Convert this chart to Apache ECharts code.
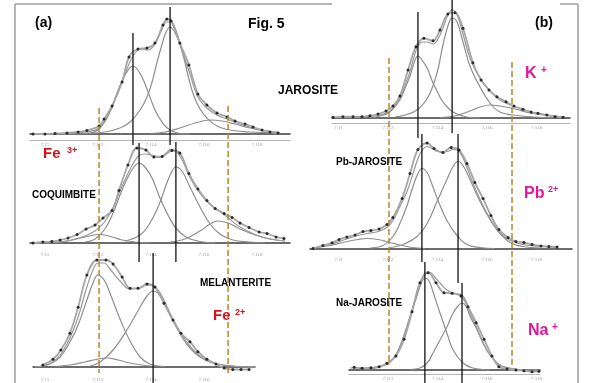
<!DOCTYPE html>
<html>
<head>
<meta charset="utf-8">
<script src="https://cdn.jsdelivr.net/npm/echarts@6/dist/echarts.min.js"></script>
<style>
  html, body { margin: 0; padding: 0; background: #fff; }
  #chart { width: 589px; height: 383px; }
</style>
</head>
<body>
<div id="chart"></div>
<script>
// Fe K pre-edge spectra (energy in eV, intensity in arbitrary units above baseline)
const tickEnergies = [7110, 7112, 7114, 7116, 7118];

// ---- (a) JAROSITE ----
const jarDots = [[7109.55,0],[7110.00,0],[7110.38,0.5],[7110.83,1],[7111.25,2],[7111.58,3.5],[7112.04,8],[7112.23,15],[7112.53,28],[7112.91,52],[7113.17,77],[7113.51,85],[7113.85,86],[7114.15,91],[7114.45,109],[7114.60,115],[7114.76,113],[7115.09,91],[7115.43,69],[7115.77,40],[7116.11,29],[7116.49,21],[7116.87,17],[7117.17,13],[7117.55,10],[7117.85,7],[7118.19,4],[7118.49,2],[7118.79,1]];
const jarFit = [[7109.55,0],[7110.57,0.5],[7111.32,1.5],[7111.70,2.5],[7112.08,7],[7112.45,22],[7112.75,42],[7113.02,60],[7113.32,78],[7113.62,85],[7113.89,84],[7114.15,90],[7114.42,105],[7114.60,112],[7114.76,112],[7114.94,104],[7115.17,84],[7115.47,60],[7115.77,37],[7116.11,26],[7116.49,19],[7116.87,15],[7117.36,10],[7117.85,6],[7118.30,3.5],[7118.87,1.5]];
const jarPeak1 = [[7110.57,0],[7111.70,1],[7112.08,6],[7112.45,22],[7112.75,43],[7113.02,59],[7113.32,68],[7113.62,59],[7113.89,42],[7114.19,22],[7114.57,7],[7114.94,1.5],[7115.47,0]];
const jarPeak2 = [[7111.51,0.5],[7112.26,2],[7112.83,6],[7113.21,12],[7113.59,24],[7113.85,37],[7114.04,52],[7114.23,72],[7114.42,90],[7114.57,102],[7114.72,107],[7114.87,103],[7115.06,92],[7115.25,75],[7115.43,55],[7115.62,38],[7115.85,25],[7116.11,16],[7116.49,8],[7116.98,4],[7117.74,2],[7118.87,1]];
const jarPeak3 = [[7113.96,0.5],[7114.53,2],[7115.09,6],[7115.66,11],[7116.23,14],[7116.68,13],[7117.17,10],[7117.74,6],[7118.30,3],[7118.87,1]];
const jarMarks = [[7113.32,101,-11],[7114.72,127,-11]];

// ---- (a) COQUIMBITE ----
const coqDots = [[7109.55,0],[7109.92,1],[7110.26,1.5],[7110.57,3],[7110.87,5],[7111.21,8.5],[7111.55,14],[7111.89,18],[7112.19,25],[7112.53,32.5],[7112.79,52.5],[7113.13,78],[7113.47,95],[7113.81,93],[7114.11,86],[7114.42,86.5],[7114.79,92.5],[7115.09,90],[7115.43,69.5],[7115.77,54],[7116.11,42.5],[7116.42,34.5],[7116.76,29.5],[7117.06,25.5],[7117.36,20],[7117.70,15.5],[7118.08,11],[7118.38,9.5],[7118.72,6],[7119.02,4.5]];
const coqFit = [[7109.55,0],[7110.38,0.5],[7110.94,2.5],[7111.51,7],[7111.89,12],[7112.08,16.5],[7112.26,21.5],[7112.57,35.5],[7112.83,52],[7113.13,69.5],[7113.36,81],[7113.55,87.5],[7113.77,89],[7114.04,88],[7114.34,86],[7114.57,90],[7114.76,94],[7114.94,92],[7115.17,83.5],[7115.47,65.5],[7115.85,49.5],[7116.23,38.5],[7116.53,33],[7116.91,25],[7117.36,16],[7117.93,8.5],[7118.49,4],[7119.06,2]];
const coqPeak1 = [[7110.38,0.5],[7110.94,2.5],[7111.51,6],[7112.08,8.5],[7112.53,6],[7112.91,3],[7113.40,1],[7113.96,0]];
const coqPeak2 = [[7111.51,1],[7111.89,4],[7112.26,14],[7112.57,30],[7112.83,48],[7113.13,66],[7113.36,76],[7113.55,80],[7113.77,76],[7114.04,65],[7114.34,45],[7114.64,28],[7114.94,15],[7115.32,6],[7115.77,2],[7116.42,0]];
const coqPeak3 = [[7113.02,2],[7113.59,8],[7113.96,20],[7114.30,38],[7114.57,58],[7114.76,70],[7114.94,76],[7115.17,72],[7115.47,56],[7115.85,36],[7116.23,19],[7116.60,9],[7117.09,3],[7117.74,1],[7118.30,0]];
const coqPeak4 = [[7114.72,1],[7115.28,4],[7115.85,12],[7116.23,19],[7116.53,22],[7116.91,20],[7117.36,14],[7117.93,8],[7118.49,4],[7119.06,2]];
const coqMarks = [[7113.55,100,-19],[7114.94,101,-19]];

// ---- (a) MELANTERITE ----
const melDots = [[7109.92,2],[7110.30,7.7],[7110.60,17],[7110.94,33.7],[7111.25,59.7],[7111.58,92],[7111.96,107],[7112.30,107],[7112.57,103],[7112.91,90],[7113.21,78.7],[7113.51,78.7],[7113.85,83],[7114.15,80],[7114.49,63.7],[7114.83,47],[7115.13,33.7],[7115.47,25.3],[7115.77,15.3],[7116.11,7.7],[7116.45,3],[7116.76,-1],[7117.09,-2.5],[7117.40,-2.5],[7117.70,-2.5]];
const melFit = [[7109.62,0],[7110.19,3.5],[7110.57,12],[7110.94,29],[7111.25,50],[7111.58,80],[7111.81,97],[7112.00,104],[7112.23,104],[7112.45,98],[7112.83,86],[7113.21,78],[7113.59,79],[7113.85,82],[7114.08,81],[7114.26,77],[7114.45,69],[7114.83,48],[7115.17,32],[7115.47,21],[7115.85,11],[7116.34,4],[7117.09,1],[7117.93,0]];
const melPeak1 = [[7109.81,0.5],[7110.19,3],[7110.57,10],[7110.94,25],[7111.25,42],[7111.58,67],[7111.81,84],[7112.00,92],[7112.23,87],[7112.45,74],[7112.83,48],[7113.21,26],[7113.59,10],[7113.96,3],[7114.53,0.5]];
const melPeak2 = [[7110.38,0.5],[7110.94,2],[7111.51,5],[7112.00,8],[7112.34,9],[7112.75,7],[7113.21,4],[7113.66,2],[7114.15,0.5]];
const melPeak3 = [[7111.70,1],[7112.08,5],[7112.57,17],[7113.09,37],[7113.59,60],[7113.85,71],[7114.08,76],[7114.26,74],[7114.45,66],[7114.83,46],[7115.17,30],[7115.47,19],[7115.85,10],[7116.34,4],[7117.09,1],[7117.93,0]];
const melMarks = [[7114.08,114,-16]];

// ---- (b) K-JAROSITE ----
const kDots = [[7109.78,0.7],[7110.18,1.3],[7110.59,1.3],[7110.95,1.3],[7111.27,2.3],[7111.60,4],[7111.92,7],[7112.20,12],[7112.48,22],[7112.81,48],[7113.13,71.3],[7113.45,79.7],[7113.82,77.3],[7114.10,88],[7114.42,104],[7114.71,105.3],[7115.03,89.7],[7115.43,55.3],[7115.76,38],[7116.08,28],[7116.40,21.3],[7116.77,16.3],[7117.09,12],[7117.45,8.7],[7117.78,6],[7118.06,4.7],[7118.42,3],[7118.75,1.3],[7119.07,0.7]];
const kFit = [[7109.86,0.5],[7110.87,1],[7111.68,3],[7112.08,7],[7112.48,20],[7112.69,33],[7112.89,46.5],[7113.05,61],[7113.21,72],[7113.37,76],[7113.58,76],[7113.82,74],[7114.02,79],[7114.22,90],[7114.42,103],[7114.59,108],[7114.79,103],[7115.03,84],[7115.31,60],[7115.72,40],[7116.12,27],[7116.52,18],[7117.05,12],[7117.74,6],[7118.34,3],[7119.15,1]];
const kPeak1 = [[7111.27,0.5],[7111.68,2],[7112.08,6],[7112.48,18],[7112.69,30],[7112.89,42],[7113.05,55],[7113.21,62],[7113.37,58],[7113.58,50],[7113.82,35],[7114.02,25],[7114.22,16],[7114.63,6],[7115.19,1],[7115.72,0]];
const kPeak2 = [[7112.28,1],[7112.69,3],[7113.17,8],[7113.62,21],[7113.98,45],[7114.22,73],[7114.42,92],[7114.59,100],[7114.79,96],[7115.03,76],[7115.31,52],[7115.72,31],[7116.12,15],[7116.52,6],[7117.05,3],[7117.86,1],[7118.75,0]];
const kPeak3 = [[7114.10,0.5],[7114.71,2],[7115.31,7],[7115.72,11],[7116.12,13],[7116.52,12],[7117.13,9],[7117.74,5],[7118.34,3],[7119.15,1]];
const kMarks = [[7113.21,106,-20],[7114.59,118,-15]];

// ---- (b) Pb-JAROSITE ----
const pbDots = [[7108.97,0],[7109.37,3],[7109.74,5.7],[7110.02,9],[7110.34,11.5],[7110.67,13.5],[7110.99,17],[7111.31,18],[7111.64,19.5],[7111.96,24],[7112.20,31],[7112.57,50],[7112.89,75],[7113.21,99],[7113.58,105.5],[7113.86,100],[7114.22,96],[7114.55,101],[7114.87,98.5],[7115.19,85],[7115.51,66],[7115.84,50],[7116.16,33],[7116.48,19],[7116.85,11],[7117.17,7],[7117.49,6],[7117.82,4],[7118.18,2.5],[7118.50,2],[7118.83,1.5]];
const pbFit = [[7108.97,0.5],[7109.66,4],[7110.26,9],[7110.79,13],[7111.15,15],[7111.60,17],[7111.96,21],[7112.20,28],[7112.48,42],[7112.77,57],[7113.01,75],[7113.21,90],[7113.37,98],[7113.58,102],[7113.78,100],[7114.02,97],[7114.38,97],[7114.63,99],[7114.83,98],[7115.03,91],[7115.31,73],[7115.72,49],[7116.12,30],[7116.52,16],[7116.93,8],[7117.45,4],[7118.14,2],[7118.83,1]];
const pbPeak1 = [[7108.97,0.5],[7109.66,3],[7110.26,6.5],[7110.79,9],[7111.15,10],[7111.60,9],[7112.08,6],[7112.48,3.5],[7112.97,1],[7113.49,0]];
const pbPeak2 = [[7111.27,0.5],[7111.80,3],[7112.20,12],[7112.48,25],[7112.77,43],[7113.01,62],[7113.21,75],[7113.37,80],[7113.58,76],[7113.78,64],[7114.02,48],[7114.38,28],[7114.79,13],[7115.19,4],[7115.72,1],[7116.32,0]];
const pbPeak3 = [[7112.08,1],[7112.61,4],[7113.17,12],[7113.58,25],[7113.98,47],[7114.38,69],[7114.63,82],[7114.83,87],[7115.03,83],[7115.31,69],[7115.72,47],[7116.12,29],[7116.52,15],[7116.93,6],[7117.45,2],[7118.14,0.5]];
const pbMarks = [[7113.37,114.5,-13.5],[7114.83,114.5,-34.5]];

// ---- (b) Na-JAROSITE ----
const naDots = [[7110.63,2.7],[7110.95,1.7],[7111.31,2.3],[7111.64,3.3],[7111.96,6.7],[7112.32,14],[7112.65,30.7],[7112.97,58.3],[7113.29,87.3],[7113.62,97.3],[7113.94,87.3],[7114.26,77.3],[7114.59,76.7],[7114.95,74],[7115.23,63.3],[7115.56,47.3],[7115.88,30.7],[7116.20,14],[7116.48,3.3],[7116.81,1],[7117.17,0],[7117.49,-0.7],[7117.82,-1.7],[7118.10,-1.3]];
const naFit = [[7110.46,2],[7111.07,2],[7111.68,3.5],[7112.08,8],[7112.36,17],[7112.61,32],[7112.89,53.5],[7113.17,77],[7113.33,88.5],[7113.49,97],[7113.66,98],[7113.82,95],[7114.10,87],[7114.38,80],[7114.63,77],[7114.83,76],[7114.99,75],[7115.15,69],[7115.31,57.5],[7115.60,41.5],[7115.84,27.5],[7116.12,15],[7116.52,5],[7116.93,1.7],[7117.53,0],[7118.14,0]];
const naPeak1 = [[7111.07,0.5],[7111.68,3],[7112.08,8],[7112.36,17],[7112.61,32],[7112.89,53],[7113.17,74],[7113.33,86],[7113.49,92],[7113.66,89],[7113.82,78],[7114.10,57],[7114.38,37],[7114.63,20],[7115.03,7],[7115.43,2],[7116.12,0]];
const naPeak2 = [[7112.89,0.5],[7113.29,2],[7113.58,7],[7113.82,17],[7114.10,30],[7114.38,43],[7114.63,57],[7114.83,64],[7114.99,67],[7115.15,64],[7115.31,54],[7115.60,40],[7115.84,27],[7116.12,15],[7116.52,5],[7116.93,1.7],[7117.53,0]];
const naMarks = [[7113.49,108,-13],[7114.99,87,-13]];

// dashed energy limits running through each column (left: panel-1 units, right: panel-4 units)
const leftLimits = [[7112.04,26,-239],[7116.91,28,-239]];
const rightLimits = [[7112.04,60,-262],[7117.01,56,-262]];

const panels = [
  { dots: jarDots, fit: jarFit, peaks: [jarPeak1, jarPeak2, jarPeak3], marks: jarMarks,
    box: { left: 30, top: 5, width: 260, height: 135 }, xr: [7109.434, 7119.246], yr: [-6, 129], frame: true },
  { dots: coqDots, fit: coqFit, peaks: [coqPeak1, coqPeak2, coqPeak3, coqPeak4], marks: coqMarks,
    box: { left: 30, top: 140, width: 260, height: 110 }, xr: [7109.434, 7119.246], yr: [-7, 103], frame: false },
  { dots: melDots, fit: melFit, peaks: [melPeak1, melPeak2, melPeak3], marks: melMarks,
    box: { left: 33, top: 250, width: 222, height: 125 }, xr: [7109.547, 7117.925], yr: [-8, 117], frame: false },
  { dots: kDots, fit: kFit, peaks: [kPeak1, kPeak2, kPeak3], marks: kMarks,
    box: { left: 332, top: 0, width: 238, height: 123 }, xr: [7109.738, 7119.353], yr: [-5, 118], frame: true },
  { dots: pbDots, fit: pbFit, peaks: [pbPeak1, pbPeak2, pbPeak3], marks: pbMarks,
    box: { left: 310, top: 130, width: 262, height: 125 }, xr: [7108.849, 7119.434], yr: [-6.5, 118.5], frame: false },
  { dots: naDots, fit: naFit, peaks: [naPeak1, naPeak2], marks: naMarks,
    box: { left: 349, top: 260, width: 191, height: 114 }, xr: [7110.424, 7118.141], yr: [-4, 110], frame: true }
];

const grid = [], xAxis = [], yAxis = [], series = [];
const frameAxes = [];

panels.forEach((p, i) => {
  grid.push(Object.assign({ containLabel: false }, p.box));
  xAxis.push({
    gridIndex: i, type: 'value', min: p.xr[0], max: p.xr[1],
    axisLine: { onZero: true, lineStyle: { color: '#3c3c3c', width: 1.5 } },
    axisTick: { show: false }, splitLine: { show: false },
    axisLabel: {
      customValues: tickEnergies.filter(v => v >= p.xr[0] && v <= p.xr[1]),
      formatter: v => String(+(v / 1000).toFixed(3)),
      fontSize: 5, color: '#9a9a9a', margin: 2, fontFamily: 'Liberation Serif'
    }
  });
  yAxis.push({ gridIndex: i, type: 'value', min: p.yr[0], max: p.yr[1], show: false });
  if (p.frame) {
    frameAxes.push({
      gridIndex: i, type: 'value', min: p.xr[0], max: p.xr[1], position: 'bottom',
      axisLine: { onZero: false, lineStyle: { color: '#b4b4b4', width: 1.2 } },
      axisTick: { show: false }, axisLabel: { show: false }, splitLine: { show: false }
    });
  }
  p.peaks.forEach(d => series.push({
    type: 'line', xAxisIndex: i, yAxisIndex: i, data: d, smooth: 0.4, symbol: 'none',
    lineStyle: { color: '#8e8e8e', width: 1.2 }, silent: true, z: 2
  }));
  series.push({
    type: 'line', xAxisIndex: i, yAxisIndex: i, data: p.fit, smooth: 0.4, symbol: 'none',
    lineStyle: { color: '#9a9a9a', width: 1.2 }, silent: true, z: 3
  });
  series.push({
    type: 'line', xAxisIndex: i, yAxisIndex: i, data: p.dots, smooth: 0.35,
    symbol: 'circle', symbolSize: 3, itemStyle: { color: '#2b2b2b' },
    lineStyle: { color: '#a6a6a6', width: 1.8 }, silent: true, z: 4
  });
  p.marks.forEach(m => series.push({
    type: 'line', xAxisIndex: i, yAxisIndex: i, data: [[m[0], m[1]], [m[0], m[2]]],
    symbol: 'none', clip: false, lineStyle: { color: '#111', width: 1.3 }, silent: true, z: 6
  }));
});

frameAxes.forEach(a => xAxis.push(a));

function limitSeries(list, idx) {
  list.forEach(m => series.push({
    type: 'line', xAxisIndex: idx, yAxisIndex: idx, data: [[m[0], m[1]], [m[0], m[2]]],
    symbol: 'none', clip: false,
    lineStyle: { color: '#b8862f', width: 1.5, type: [6, 3] }, silent: true, z: 7
  }));
}
limitSeries(leftLimits, 0);
limitSeries(rightLimits, 3);

const RED = '#d3141c', MAG = '#e0179c';
const FONT = '"Liberation Sans", Arial, sans-serif';
const labels = [
  ['(a)', 35, 23, 14, '#000'],
  ['Fig. 5', 248, 24, 14, '#000'],
  ['JAROSITE', 278, 91, 12, '#000'],
  ['Fe', 43, 154, 15, RED], ['3+', 67, 151, 9, RED],
  ['COQUIMBITE', 32, 195, 10, '#000'],
  ['MELANTERITE', 200, 283, 10, '#000'],
  ['Fe', 213, 316, 15, RED], ['2+', 235, 313, 9, RED],
  ['(b)', 535, 23, 14, '#000'],
  ['K', 525, 74, 16, MAG], ['+', 541, 70, 10, MAG],
  ['Pb-JAROSITE', 336, 162, 10, '#000'],
  ['Pb', 524, 194, 16, MAG], ['2+', 548, 190, 9, MAG],
  ['Na-JAROSITE', 336, 303, 10, '#000'],
  ['Na', 528, 331, 16, MAG], ['+', 552, 327, 10, MAG]
];

const graphic = labels.map(t => ({
  type: 'text', x: t[1], y: t[2], silent: true, z: 10,
  style: { text: t[0], font: 'bold ' + t[3] + 'px ' + FONT, fill: t[4], align: 'left', verticalAlign: 'middle' }
}));
// column frames
[[15, 4, 15, 383], [15, 4, 332, 4], [560, 4, 578, 4], [578, 4, 578, 383]].forEach(s => graphic.push({
  type: 'line', silent: true, z: 1,
  shape: { x1: s[0], y1: s[1], x2: s[2], y2: s[3] },
  style: { stroke: '#9c9c9c', lineWidth: 1.5 }
}));

const chart = echarts.init(document.getElementById('chart'), null, { renderer: 'canvas' });
chart.setOption({
  animation: false,
  backgroundColor: '#fff',
  grid, xAxis, yAxis, series, graphic
});
</script>
</body>
</html>
